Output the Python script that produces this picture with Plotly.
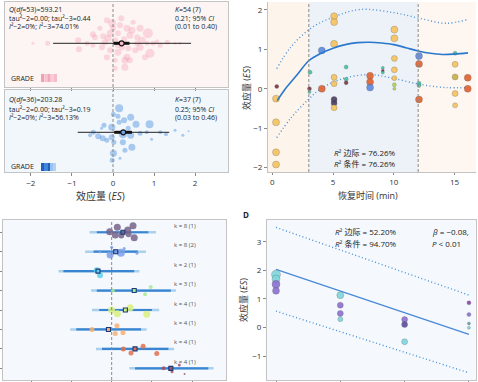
import plotly.graph_objects as go

W, H = 478, 382
def px(x): return x / W
def py(y): return 1 - y / H

# ---------------- Panel A data ----------------
pink_es = [-1.95,-1.59,-0.85,-0.83,-0.49,-0.44,-0.49,-0.27,-0.24,-0.15,-0.07,-0.12,-0.02,-0.07,-0.15,0.05,0.05,0.12,0.17,0.20,
           0.12,0.29,0.29,0.34,0.34,0.41,0.41,0.46,0.54,0.59,0.66,0.66,0.71,0.85,0.90,0.83,0.98,1.15,1.07,1.32,
           1.51,1.63,0.22,0.05,-0.20,-0.32,0.49,0.37,0.59,0.27,0.00,0.12,0.78,-0.63]
pink_off = [0,0,3,-6,9,6,-2,-4,7,23,10,5,20,-7,-14,-17,-25,10,18,25,
            -9,-17,-24,15,-14,8,-17,13,-7,0,15,-4,3,10,-10,0,0,-2,2,1,
            0,0,-4,3,1,15,21,-5,6,4,15,-2,-14,0]
pink_w = [3,5,6,6,6,6,5,6,6,6,7,7,8,6,6,5,5,6,6,6,
          7,7,7,7,7,7,6,7,6,6,7,7,7,10,9,5,5,5,4,5,
          3,3,6,6,6,5,5,6,6,6,6,6,6,5]
blue_es = [0.15,0.01,0.12,0.43,0.27,0.56,0.89,0.15,-0.03,-0.48,-0.28,-0.36,-0.25,-0.03,0.24,0.43,0.66,0.82,0.94,1.15,
           1.29,1.51,1.70,1.84,0.02,0.24,0.46,0.29,0.01,-0.02,0.17,-0.22,0.37,-0.56,-0.15]
blue_off = [24,18,16,15,12,8,8,10,5,0,4,-4,-6,-5,-2,-3,-1,0,-7,0,
            -2,2,-3,1,-10,-10,-15,-18,-21,-28,-26,7,4,-3,-8]
blue_w = [8,5,5,7,6,7,8,5,7,5,3,6,6,6,8,7,5,4,3,4,
          4,3,3,2,5,6,7,5,7,5,3,5,5,4,5]
pooled = {"pink": (0.21, 0.01, 0.40, -1.46, 1.90), "blue": (0.25, 0.03, 0.46, -0.86, 1.37)}
es_ticks = [-2, -1, 0, 1, 2]
es_ticktext = ["\u22122", "\u22121", "0", "1", "2"]

# ---------------- Panel B data ----------------
b_time = [0.36,0.3,0.3,0.3,0.3, 3.1,3.05,3.05, 4.07,4.07, 5.08,5.08,5.08,5.08,5.08,5.08,5.08,5.08,
          6.07,6.07,6.07, 8.04,8.04,8.04, 9.09,9.09,9.09, 10.04,10.04,10.04,10.04,10.04,10.04,10.04,
          12.07,12.07,12.07,12.07,12.07, 15.04,15.04,15.04,15.04,15.04, 16.08,16.08]
b_es = [0.06,-0.25,-0.85,-1.61,-1.92, 0.42,0.0,-0.08, 0.0,0.97, 1.84,1.69,1.14,0.29,0.13,-0.27,-0.36,-0.48,
        0.55,0.24,0.15, 0.33,0.17,0.03, 0.53,0.46,0.41, 1.5,1.28,0.77,0.48,0.27,0.1,0.0,
        0.83,0.63,0.14,0.08,-0.27, 0.9,0.62,0.3,-0.12,-0.42, 0.28,0.0]
b_grp = ["M","Y","Y","Y","Y", "T","M","T", "R","B", "Y","Y","Y","Y","Y","P","P","Y",
         "T","T","M", "R","R","B", "T","M","T", "Y","Y","Y","Y","Y","G","G",
         "B","R","T","T","R", "T","Y","O","Y","Y", "R","R"]
b_w = [4,7,7,7,7, 4,4,3, 7,7, 7,7,7,6,6,6,6,6, 4,4,4, 7,7,7, 3,3,3, 7,7,6,6,5,4,3,
       7,7,4,4,7, 4,6,6,6,5, 7,7]
fit_t = [0.4,1,2,3,4,5,6,7,8,9,10,11,12,13,14,15,16.1]
fit_es = [-0.3,-0.03,0.34,0.71,0.9,1.03,1.12,1.17,1.18,1.16,1.12,1.04,0.96,0.9,0.87,0.88,0.91]
up_t = [0.36,1.5,3.24,5.2,7.2,10,12.2,14.3,16.1]
up_es = [0.51,1.05,1.55,1.84,2.01,1.93,1.78,1.66,1.76]
lo_t = [0.36,1.5,2.96,3.9,5.6,8,9.7,12.2,14.3,16.1]
lo_es = [-1.24,-0.75,-0.27,-0.02,0.24,0.36,0.28,0.11,0.03,0.03]

# ---------------- Panel C data ----------------
c_labels = ["k = 8 (1)","k = 8 (2)","k = 2 (1)","k = 3 (1)","k = 4 (1)","k = 4 (1)","k = 4 (1)","k = 4 (1)"]
c_est = [0.28,0.10,-0.34,0.56,0.34,-0.08,0.58,1.47]
c_ci_lo = [-0.37,-0.45,-1.20,-0.37,-0.31,-0.88,-0.24,0.58]
c_ci_hi = [0.91,0.65,0.56,1.47,1.00,0.73,1.41,2.40]
c_pi_lo = [-0.55,-0.66,-1.32,-0.51,-0.49,-1.03,-0.39,0.44]
c_pi_hi = [1.10,0.85,0.69,1.60,1.18,0.87,1.55,2.53]
c_colors = ["#76648a","#7d9fe8","#5ed2ea","#a6ea96","#d9f07c","#f7b072","#e2704f","#a45466"]
c_es = [[-0.05,0.14,0.09,0.24,0.40,0.53,0.42,0.56],
        [0.00,0.31,0.23,-0.04,-0.29,0.63,0.09],
        [-0.37,-0.29],
        [0.03,0.97,0.83],
        [0.00,0.14,0.46,0.87],
        [-0.49,0.13,0.09,0.28],
        [0.29,0.48,0.78,1.12],
        [1.29,1.68,1.50,1.81]]
c_off = [[-0.03,-0.26,0.14,0.17,-0.12,-0.34,0.10,0.28],
         [-0.23,-0.17,0.05,0.17,0.0,0.08,0.0],
         [-0.05,0.21],
         [0.0,-0.19,0.19],
         [0.0,0.19,-0.12,0.22],
         [0.0,-0.19,0.21,0.17],
         [0.0,0.21,-0.14,0.24],
         [0.0,-0.17,0.17,0.29]]
c_w = [[7,7,7,6,7,7,6,7],[3,3,8,7,3,3,5],[6,6],[4,4,4],[7,7,7,7],[5,5,5,5],[5,5,5,5],[4,3,3,2]]

# ---------------- Panel D data ----------------
d_cat = [1,1,1,1, 2,2,2,2, 3,3,3, 4,4,4,4]
d_es = [1.85,1.70,1.51,1.28, 1.13,0.78,0.49,0.29, 0.28,0.10,-0.50, 0.86,0.45,0.14,-0.01]
d_grp = ["C","C","P","P", "C","P","P","C", "P","DP","C", "PP","P","T","C"]
d_w = [9,8,8,7, 7,6,6,5, 6,6,6, 4,4,3,3]
d_fit_x = [1, 4]
d_fit = [2.03, -0.24]
d_up = [3.50, 1.13]
d_lo = [0.57, -1.59]

fig = go.Figure()
GRID = "#c4c4c4"
FONT = "Open Sans, Noto Sans CJK SC, sans-serif"
DOT = "1px,2.5px"

# ---- Panel A traces
def add_forest(es, off, w, color, key, xa, ya, cc):
    fig.add_trace(go.Scatter(x=es, y=off, mode="markers", xaxis=xa, yaxis=ya,
                             marker=dict(size=w, color=color, line=dict(width=0)), showlegend=False, hoverinfo="skip"))
    est, clo, chi, plo, phi = pooled[key]
    fig.add_trace(go.Scatter(x=[plo, phi], y=[0, 0], mode="lines", xaxis=xa, yaxis=ya,
                             line=dict(color="#222", width=1), showlegend=False))
    fig.add_trace(go.Scatter(x=[clo, chi], y=[0, 0], mode="lines", xaxis=xa, yaxis=ya,
                             line=dict(color="#111", width=3), showlegend=False))
    fig.add_trace(go.Scatter(x=[est], y=[0], mode="markers", xaxis=xa, yaxis=ya,
                             marker=dict(size=5, color=cc, line=dict(color="#111", width=1.2)), showlegend=False))

add_forest(pink_es, pink_off, pink_w, "rgba(243,155,178,0.5)", "pink", "x", "y", "#f4b8c6")
add_forest(blue_es, blue_off, blue_w, "rgba(80,145,225,0.65)", "blue", "x2", "y2", "#6fa3e0")

# ---- Panel B traces
bcol = {"Y": "#f6c25c", "R": "#e0602e", "B": "#5a88e0", "T": "#3cc4a0", "M": "#7a3040",
        "P": "#4b3d63", "G": "#a8d84a", "O": "#c8b040"}
fig.add_trace(go.Scatter(x=up_t, y=up_es, mode="lines", xaxis="x3", yaxis="y3", line=dict(color="#4a90d8", width=1.4, dash=DOT, shape="spline"), showlegend=False))
fig.add_trace(go.Scatter(x=lo_t, y=lo_es, mode="lines", xaxis="x3", yaxis="y3", line=dict(color="#4a90d8", width=1.4, dash=DOT, shape="spline"), showlegend=False))
fig.add_trace(go.Scatter(x=b_time, y=b_es, mode="markers", xaxis="x3", yaxis="y3",
                         marker=dict(size=b_w, color=[bcol[g] for g in b_grp], opacity=0.9, line=dict(color="rgba(90,90,90,0.5)", width=0.6)), showlegend=False))
fig.add_trace(go.Scatter(x=fit_t, y=fit_es, mode="lines", xaxis="x3", yaxis="y3", line=dict(color="#2a78cc", width=1.6, shape="spline"), showlegend=False))

# ---- Panel C traces
for i in range(8):
    r = i + 1
    fig.add_trace(go.Scatter(x=[c_pi_lo[i], c_pi_hi[i]], y=[r, r], mode="lines", xaxis="x4", yaxis="y4",
                             line=dict(color="#a9d0ec", width=2.5), showlegend=False))
    fig.add_trace(go.Scatter(x=[c_ci_lo[i], c_ci_hi[i]], y=[r, r], mode="lines", xaxis="x4", yaxis="y4",
                             line=dict(color="#3a85d2", width=2.2), showlegend=False))
    fig.add_trace(go.Scatter(x=c_es[i], y=[r + o for o in c_off[i]], mode="markers", xaxis="x4", yaxis="y4",
                             marker=dict(size=c_w[i], color=c_colors[i], opacity=0.85, line=dict(width=0)), showlegend=False))
    fig.add_trace(go.Scatter(x=[c_est[i]], y=[r], mode="markers", xaxis="x4", yaxis="y4",
                             marker=dict(size=4, symbol="square", color=c_colors[i], line=dict(color="#1a3a7a", width=1.1)), showlegend=False))
    fig.add_annotation(x=1.50, y=r - 0.33, xref="x4", yref="y4", text=c_labels[i], showarrow=False,
                       xanchor="left", font=dict(size=6, color="#555", family=FONT))

# ---- Panel D traces
dcol = {"C": "#7fd6dd", "P": "#8b6fd0", "DP": "#5e4b9e", "PP": "#8a3fb5", "T": "#5aa0a8"}
fig.add_trace(go.Scatter(x=d_fit_x, y=d_up, mode="lines", xaxis="x5", yaxis="y5", line=dict(color="#4a90d8", width=1.4, dash=DOT), showlegend=False))
fig.add_trace(go.Scatter(x=d_fit_x, y=d_lo, mode="lines", xaxis="x5", yaxis="y5", line=dict(color="#4a90d8", width=1.4, dash=DOT), showlegend=False))
fig.add_trace(go.Scatter(x=d_fit_x, y=d_fit, mode="lines", xaxis="x5", yaxis="y5", line=dict(color="#4a8ad8", width=1.4), showlegend=False))
fig.add_trace(go.Scatter(x=d_cat, y=d_es, mode="markers", xaxis="x5", yaxis="y5",
                         marker=dict(size=d_w, color=[dcol[g] for g in d_grp], opacity=0.9, line=dict(color="rgba(90,90,90,0.5)", width=0.6)), showlegend=False))

# ---- Backgrounds
shapes = []
def bg(xref, yref, x0, x1, color):
    shapes.append(dict(type="rect", xref=xref, yref=yref, x0=x0, x1=x1, y0=0, y1=1, fillcolor=color, line=dict(width=0), layer="below"))
bg("x domain", "y domain", 0, 1, "#fdf5f3")
bg("x2 domain", "y2 domain", 0, 1, "#f2f7fc")
bg("x3", "y3 domain", -0.36, 3, "#fdf4ec")
bg("x3", "y3 domain", 3, 12, "#edf2f8")
bg("x3", "y3 domain", 12, 16.76, "#fdf6f1")
bg("x4 domain", "y4 domain", 0, 1, "#f5f9fd")
bg("x5 domain", "y5 domain", 0, 1, "#f5f9fd")
def vdash(xref, yref, x):
    shapes.append(dict(type="line", xref=xref, yref=yref, x0=x, x1=x, y0=0, y1=1, line=dict(color="#8a8a8a", width=1, dash="3px,2px")))
vdash("x", "y domain", 0)
vdash("x2", "y2 domain", 0)
vdash("x3", "y3 domain", 3)
vdash("x3", "y3 domain", 12)
vdash("x4", "y4 domain", 0)
# GRADE bars
pink_grade = ["#f2a0b4", "#f7c4d0", "#f2a8ba", "#f8ccd6", "#f6bccb"]
blue_grade = ["#1f5fc0", "#3f86dc", "#1f5fc0", "#9bc1ec", "#b5d0f0"]
for k, c in enumerate(pink_grade):
    shapes.append(dict(type="rect", xref="paper", yref="paper", x0=px(41 + k * 3.2), x1=px(41 + (k + 1) * 3.2),
                       y0=py(82), y1=py(74), fillcolor=c, line=dict(width=0)))
bw = [3, 4, 2, 3, 3]
xx = 41
for k, c in enumerate(blue_grade):
    shapes.append(dict(type="rect", xref="paper", yref="paper", x0=px(xx), x1=px(xx + bw[k]),
                       y0=py(171), y1=py(163), fillcolor=c, line=dict(width=0)))
    xx += bw[k]

# ---- Annotations
def ann(x, y, text, size=7, anchor="left", color="#222", angle=0):
    fig.add_annotation(x=px(x), y=py(y), xref="paper", yref="paper", text=text, showarrow=False,
                       xanchor=anchor, yanchor="middle", textangle=angle, font=dict(size=size, color=color, family=FONT))

ann(7, 10, "<i>Q</i>(<i>df</i>=53)=593.21")
ann(7, 19, "tau\u00b2\u22122=0.00; tau\u00b2\u22123=0.44")
ann(7, 27, "<i>I</i>\u00b2\u22122=0%; <i>I</i>\u00b2\u22123=74.01%")
ann(173, 10, "<i>K</i>=54 (7)")
ann(173, 19, "0.21; 95% <i>CI</i>")
ann(173, 27, "(0.01 to 0.40)")
ann(9, 78, "GRADE")
ann(7, 100, "<i>Q</i>(<i>df</i>=36)=203.28")
ann(7, 109, "tau\u00b2\u22122=0.00; tau\u00b2\u22123=0.19")
ann(7, 118, "<i>I</i>\u00b2\u22122=0%; <i>I</i>\u00b2\u22123=56.13%")
ann(173, 100, "<i>K</i>=37 (7)")
ann(173, 109, "0.25; 95% <i>CI</i>")
ann(173, 118, "(0.03 to 0.46)")
ann(9, 166, "GRADE")
ann(100, 196, "效应量 (<i>ES</i>)", size=10, anchor="center", color="#333")

ann(365, 152, "<i>R</i>\u00b2 边际 = 76.26%", size=8, anchor="center")
ann(365, 163, "<i>R</i>\u00b2 条件 = 76.26%", size=8, anchor="center")
ann(368, 195, "恢复时间 (min)", size=9, anchor="center", color="#333")
ann(246, 88, "效应量 (<i>ES</i>)", size=9, anchor="center", color="#333", angle=-90)

ann(241, 214, "<b>D</b>", size=8)
ann(366, 231.7, "<i>R</i>\u00b2 边际 = 52.20%", size=8, anchor="center")
ann(366, 243.3, "<i>R</i>\u00b2 条件 = 94.70%", size=8, anchor="center")
ann(430, 231.7, "<i>\u03b2</i> = \u22120.08,", size=8)
ann(430, 243.3, "<i>P</i> < 0.01", size=8)
ann(243, 300, "效应量 (<i>ES</i>)", size=9, anchor="center", color="#333", angle=-90)

axfont = dict(size=8, color="#333", family=FONT)
common = dict(showgrid=False, zeroline=False, showline=True, linecolor=GRID, linewidth=1,
              ticks="outside", ticklen=3, tickcolor="#888", tickfont=axfont)

fig.update_layout(
    width=W, height=H, margin=dict(l=0, r=0, t=0, b=0),
    paper_bgcolor="white", plot_bgcolor="rgba(0,0,0,0)", showlegend=False,
    font=dict(family=FONT), hovermode=False,
    shapes=shapes,
    xaxis=dict(**common, domain=[px(5), px(228)], range=[-2.63, 2.80], tickvals=es_ticks, showticklabels=False, mirror=True, anchor="y"),
    yaxis=dict(**{**common, "ticks": ""}, domain=[py(87), py(2)], range=[-43.7, 41.3], showticklabels=False, mirror=True, anchor="x"),
    xaxis2=dict(**common, domain=[px(5), px(228)], range=[-2.63, 2.80], tickvals=es_ticks, ticktext=es_ticktext, mirror=True, anchor="y2"),
    yaxis2=dict(**{**common, "ticks": ""}, domain=[py(172), py(90)], range=[-39.7, 42.3], showticklabels=False, mirror=True, anchor="x2"),
    xaxis3=dict(**{**common, "ticklen": 2}, domain=[px(268), px(476)], range=[-0.36, 16.76], tickvals=[0, 5, 10, 15], anchor="y3"),
    yaxis3=dict(**common, domain=[py(172), py(2)], range=[-2.11, 2.2], tickvals=[-2, -1, 0, 1, 2],
                ticktext=["\u22122", "\u22121", "0", "1", "2"], anchor="x3"),
    xaxis4=dict(**common, domain=[px(3), px(226)], range=[-2.70, 2.84], tickvals=es_ticks, showticklabels=False, mirror=True, anchor="y4"),
    yaxis4=dict(**common, domain=[py(380), py(220)], range=[8.6, 0.37], tickvals=list(range(1, 9)), showticklabels=False, mirror=True, anchor="x4"),
    xaxis5=dict(**common, domain=[px(267), px(476)], range=[0.86, 4.11], tickvals=[1, 2, 3, 4], showticklabels=False, mirror=True, anchor="y5"),
    yaxis5=dict(**common, domain=[py(380), py(220)], range=[-1.84, 3.76], tickvals=[-1, 0, 1, 2, 3],
                ticktext=["\u22121", "0", "1", "2", "3"], mirror=True, anchor="x5"),
)

fig.write_html("out.html", config={"displayModeBar": False, "staticPlot": True},
               post_script="document.body.style.margin='0px';document.body.style.overflow='hidden';")
